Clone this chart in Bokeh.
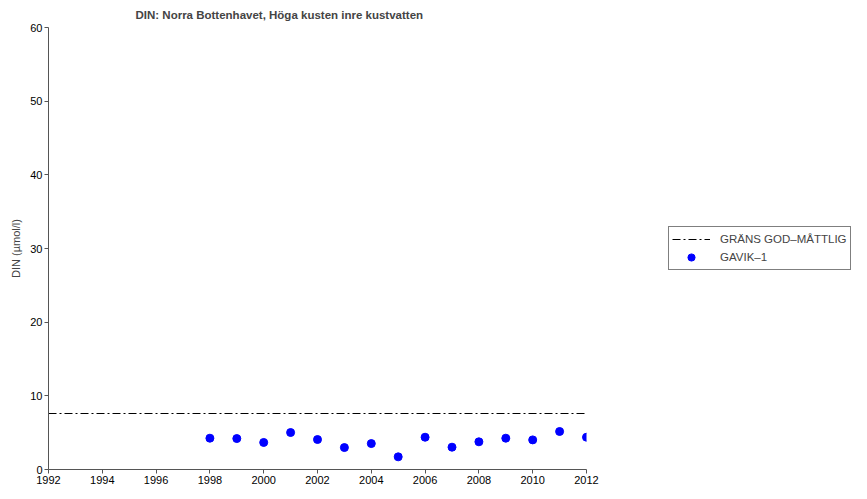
from bokeh.plotting import figure
from bokeh.models import Range1d, Legend, LegendItem, FixedTicker
from bokeh.embed import file_html
from bokeh.resources import INLINE

title_text = "DIN: Norra Bottenhavet, Höga kusten inre kustvatten"
years = [1998, 1999, 2000, 2001, 2002, 2003, 2004, 2005, 2006, 2007, 2008, 2009, 2010, 2011, 2012]
din = [4.25, 4.2, 3.67, 5.02, 4.07, 2.98, 3.52, 1.72, 4.38, 3.03, 3.76, 4.25, 4.02, 5.16, 4.38]
limit_x = [1992, 2012]
limit_y = [7.6, 7.6]
x_ticks = list(range(1992, 2013, 2))
y_ticks = [0, 10, 20, 30, 40, 50, 60]

FONT = "Liberation Sans"

p = figure(width=851, height=483, output_backend="svg", toolbar_location=None,
           x_range=Range1d(1992, 2012), y_range=Range1d(0, 60),
           frame_width=538, frame_height=442,
           min_border_left=48, min_border_top=27, min_border_bottom=14, min_border_right=265)
p.outline_line_color = None
p.xgrid.visible = False
p.ygrid.visible = False

p.title.text = title_text
p.title.align = "left"
p.title.offset = 87
p.title.text_font = FONT
p.title.text_font_size = "11.5px"
p.title.text_font_style = "bold"
p.title.standoff = 13

for ax in (p.xaxis[0], p.yaxis[0]):
    ax.axis_line_color = "#555555"
    ax.major_tick_line_color = "#555555"
    ax.major_tick_out = 4
    ax.major_tick_in = 0
    ax.minor_tick_out = 0
    ax.minor_tick_in = 0
    ax.major_label_text_font = FONT
    ax.major_label_text_font_size = "11px"
    ax.major_label_text_color = "#000000"
    ax.major_label_standoff = 2

p.xaxis[0].ticker = FixedTicker(ticks=x_ticks)
p.yaxis[0].ticker = FixedTicker(ticks=y_ticks)
p.yaxis[0].axis_label = "DIN (µmol/l)"
p.yaxis[0].axis_label_text_font = FONT
p.yaxis[0].axis_label_text_font_style = "normal"
p.yaxis[0].axis_label_text_font_size = "11px"
p.yaxis[0].axis_label_standoff = 5

r_line = p.line(limit_x, limit_y, line_color="black", line_width=1, line_dash="8 3 2 3")
r_pts = p.scatter(years, din, size=8, fill_color="#0000ff", line_color="#0000ff")

legend = Legend(items=[LegendItem(label="GRÄNS GOD–MÅTTLIG", renderers=[r_line]),
                       LegendItem(label="GAVIK–1", renderers=[r_pts])],
                location=(82, 199))
legend.label_text_font = FONT
legend.label_text_font_size = "11.5px"
legend.border_line_color = "black"
legend.border_line_width = 1
legend.padding = 3
legend.spacing = 0
legend.glyph_width = 38
legend.glyph_height = 18
legend.label_height = 18
legend.label_standoff = 10
legend.margin = 0
legend.background_fill_alpha = 1
p.add_layout(legend, "right")

open("out.html", "w").write(file_html(p, INLINE))
